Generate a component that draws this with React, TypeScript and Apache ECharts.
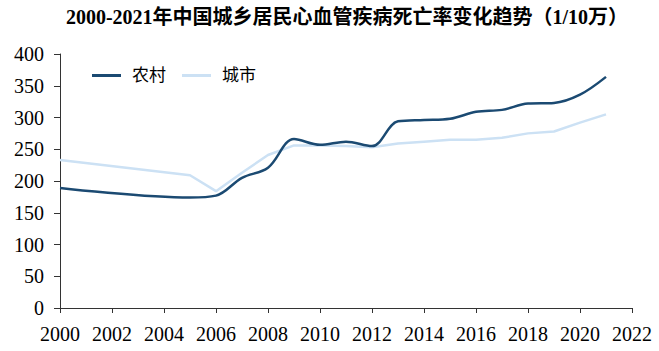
import React, { useEffect, useRef } from "react";
import * as echarts from "echarts";

const titleText = "2000-2021年中国城乡居民心血管疾病死亡率变化趋势（1/10万）";
const years = [2000, 2005, 2006, 2007, 2008, 2009, 2010, 2011, 2012, 2013, 2014, 2015, 2016, 2017, 2018, 2019, 2020, 2021];
const ruralValues = [189, 174, 177, 205, 221, 266, 257, 262, 255, 294, 296, 298, 309, 312, 322, 323, 336, 364];
const urbanValues = [233, 209, 184, 213, 241, 256, 256, 255, 253, 259, 262, 265, 265, 268, 275, 278, 292, 305];
const seriesNames = ["农村", "城市"];

const FONT = "Times New Roman, Liberation Serif, Noto Sans CJK SC, serif";

export default function App() {
  const ref = useRef<HTMLDivElement>(null);
  useEffect(() => {
    if (!ref.current) return;
    const chart = echarts.init(ref.current, undefined, { renderer: "svg" });
    const rural = years.map((y, i) => [y, ruralValues[i]]);
    const urban = years.map((y, i) => [y, urbanValues[i]]);
    chart.setOption({
      animation: false,
      backgroundColor: "#ffffff",
      title: {
        text: titleText,
        left: 342,
        textAlign: "center",
        top: 2,
        textStyle: { fontFamily: FONT, fontSize: 20, fontWeight: "bold", color: "#000" },
      },
      legend: {
        left: 92,
        top: 67,
        padding: 0,
        itemWidth: 29,
        itemHeight: 3,
        itemGap: 16,
        icon: "rect",
        data: seriesNames,
        textStyle: { fontFamily: FONT, fontSize: 17, color: "#000", padding: [0, 0, 0, 6] },
      },
      grid: { left: 60, right: 27, top: 54, bottom: 43 },
      xAxis: {
        type: "value",
        min: 2000,
        max: 2022,
        interval: 2,
        splitLine: { show: false },
        axisLine: { show: true, lineStyle: { color: "#333", width: 1 } },
        axisTick: { show: true, length: 5, lineStyle: { color: "#333" } },
        axisLabel: { fontFamily: FONT, fontSize: 20, color: "#000", margin: 16, formatter: (v: number) => String(v) },
      },
      yAxis: {
        type: "value",
        min: 0,
        max: 400,
        interval: 50,
        splitLine: { show: false },
        axisLine: { show: true, lineStyle: { color: "#333", width: 1 } },
        axisTick: { show: true, length: 6, lineStyle: { color: "#333" } },
        axisLabel: { fontFamily: FONT, fontSize: 20, color: "#000", margin: 16 },
      },
      series: [
        {
          name: seriesNames[0],
          type: "line",
          data: rural,
          smooth: 0.35,
          symbol: "none",
          lineStyle: { color: "#1B4A72", width: 2.5 },
          itemStyle: { color: "#1B4A72" },
          z: 3,
        },
        {
          name: seriesNames[1],
          type: "line",
          data: urban,
          smooth: false,
          symbol: "none",
          lineStyle: { color: "#CCE1F4", width: 2.5 },
          itemStyle: { color: "#CCE1F4" },
          z: 2,
        },
      ],
    });
    return () => chart.dispose();
  }, []);
  return <div ref={ref} style={{ width: 659, height: 351, position: "absolute", left: 0, top: 0 }} />;
}
